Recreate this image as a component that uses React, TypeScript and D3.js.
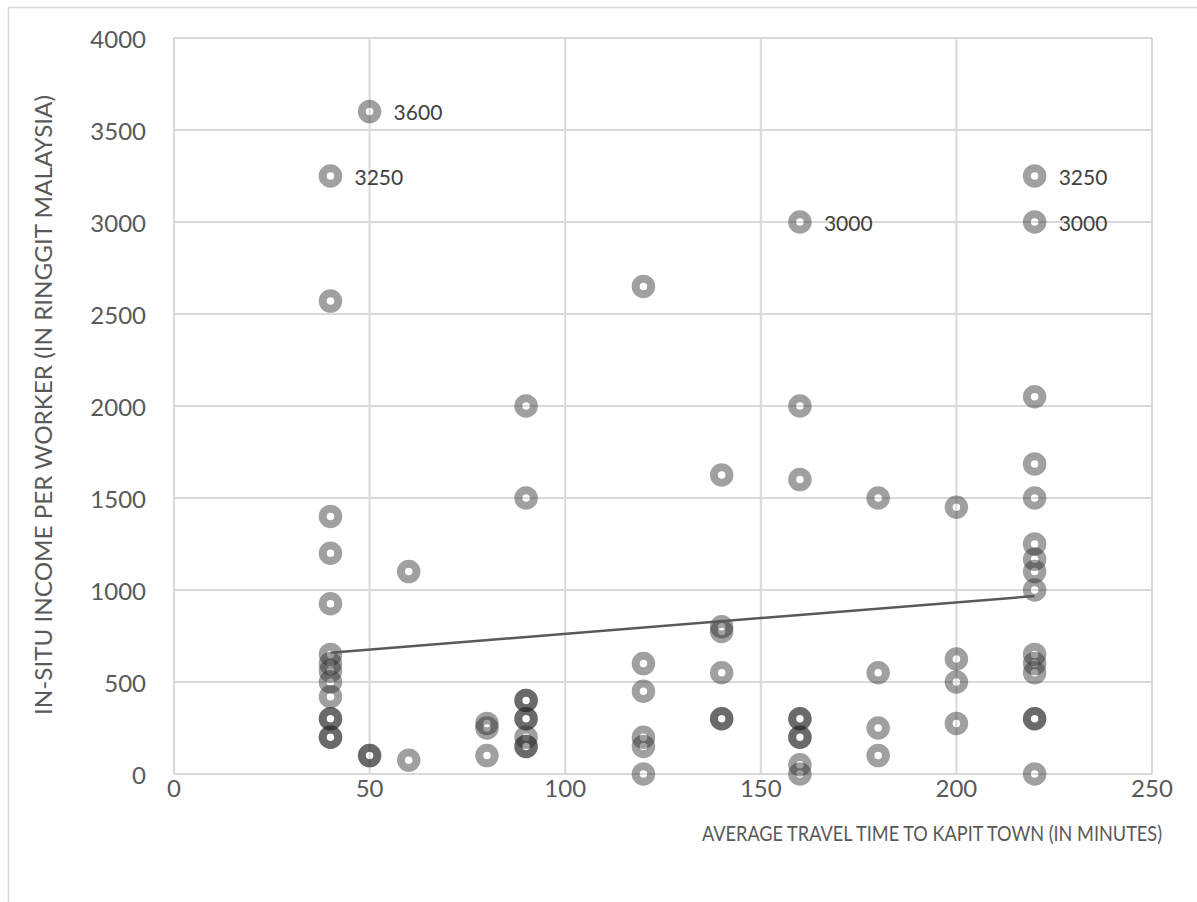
import React from "react";
import * as d3 from "d3";

// ---- Data ----
const travelTime: number[] = [
  40, 40, 40, 40, 40, 40, 40, 40, 40, 40, 40, 40, 40, 40,
  50, 50, 50,
  60, 60,
  80, 80, 80,
  90, 90, 90, 90, 90, 90, 90, 90, 90,
  120, 120, 120, 120, 120, 120,
  140, 140, 140, 140, 140, 140,
  160, 160, 160, 160, 160, 160, 160, 160, 160,
  180, 180, 180, 180,
  200, 200, 200, 200,
  220, 220, 220, 220, 220, 220, 220, 220, 220, 220, 220, 220, 220, 220, 220,
];
const income: number[] = [
  3250, 2570, 1400, 1200, 925, 650, 600, 560, 500, 420, 300, 300, 200, 200,
  3600, 100, 100,
  1100, 75,
  275, 250, 100,
  2000, 1500, 400, 400, 300, 300, 200, 150, 150,
  2650, 600, 450, 200, 150, 0,
  1625, 800, 775, 550, 300, 300,
  3000, 2000, 1600, 300, 300, 200, 200, 50, 0,
  1500, 550, 250, 100,
  1450, 625, 500, 275,
  3250, 3000, 2050, 1685, 1500, 1250, 1167, 1100, 1000, 650, 600, 550, 300, 300, 0,
];
const labelX: number[] = [50, 40, 160, 220, 220];
const labelY: number[] = [3600, 3250, 3000, 3250, 3000];
const trendX: number[] = [40, 220];
const trendY: number[] = [659, 967];
const xTicks: number[] = [0, 50, 100, 150, 200, 250];
const yTicks: number[] = [0, 500, 1000, 1500, 2000, 2500, 3000, 3500, 4000];
const xTitle = "AVERAGE TRAVEL TIME TO KAPIT TOWN (IN MINUTES)";
const yTitle = "IN-SITU INCOME PER WORKER  (IN RINGGIT MALAYSIA)";

const W = 1197;
const H = 902;
const FONT = "Lato, 'Open Sans', sans-serif";

export default function App() {
  const x = d3.scaleLinear().domain([0, 250]).range([174, 1152]);
  const y = d3.scaleLinear().domain([0, 4000]).range([774, 38]);
  const line = d3
    .line<number>()
    .x((d) => x(d))
    .y((_, i) => y(trendY[i]));

  return (
    <svg
      width={W}
      height={H}
      style={{ position: "absolute", left: 0, top: 0, display: "block", background: "#fff" }}
    >
      {/* chart frame */}
      <rect x={8.5} y={7.5} width={1400} height={1200} fill="#fff" stroke="#d9d9d9" strokeWidth={1.5} />

      {/* gridlines */}
      {yTicks.map((t) => (
        <line key={"gy" + t} x1={x(0)} x2={x(250)} y1={y(t)} y2={y(t)} stroke="#d9d9d9" strokeWidth={2} />
      ))}
      {xTicks.map((t) => (
        <line key={"gx" + t} x1={x(t)} x2={x(t)} y1={y(0)} y2={y(4000)} stroke="#d9d9d9" strokeWidth={2} />
      ))}

      {/* y tick labels */}
      {yTicks.map((t) => (
        <text
          key={"ty" + t}
          x={146}
          y={y(t)}
          textAnchor="end"
          dominantBaseline="central"
          fontFamily={FONT}
          fontSize={24}
          fill="#595959"
        >
          {t}
        </text>
      ))}
      {/* x tick labels */}
      {xTicks.map((t) => (
        <text
          key={"tx" + t}
          x={x(t)}
          y={787}
          textAnchor="middle"
          dominantBaseline="central"
          fontFamily={FONT}
          fontSize={24}
          fill="#595959"
        >
          {t}
        </text>
      ))}

      {/* axis titles */}
      <text
        x={1162}
        y={832}
        textAnchor="end"
        dominantBaseline="central"
        fontFamily={FONT}
        fontSize={22}
        fill="#595959"
        textLength={460}
        lengthAdjust="spacingAndGlyphs"
      >
        {xTitle}
      </text>
      <text
        transform={`translate(42, 95) rotate(-90)`}
        textAnchor="end"
        dominantBaseline="central"
        fontFamily={FONT}
        fontSize={24}
        fill="#595959"
        textLength={620}
        lengthAdjust="spacingAndGlyphs"
      >
        {yTitle}
      </text>

      {/* markers */}
      {travelTime.map((t, i) => (
        <circle
          key={"p" + i}
          cx={x(t)}
          cy={y(income[i])}
          r={7.75}
          fill="none"
          stroke="#232323"
          strokeOpacity={0.43}
          strokeWidth={8}
        />
      ))}

      {/* trend line */}
      <path d={line(trendX) || ""} fill="none" stroke="#595959" strokeWidth={2.5} />

      {/* data labels */}
      {labelX.map((t, i) => (
        <text
          key={"l" + i}
          x={x(t) + 24}
          y={y(labelY[i])}
          dominantBaseline="central"
          fontFamily={FONT}
          fontSize={21}
          fill="#404040"
        >
          {labelY[i]}
        </text>
      ))}
    </svg>
  );
}
